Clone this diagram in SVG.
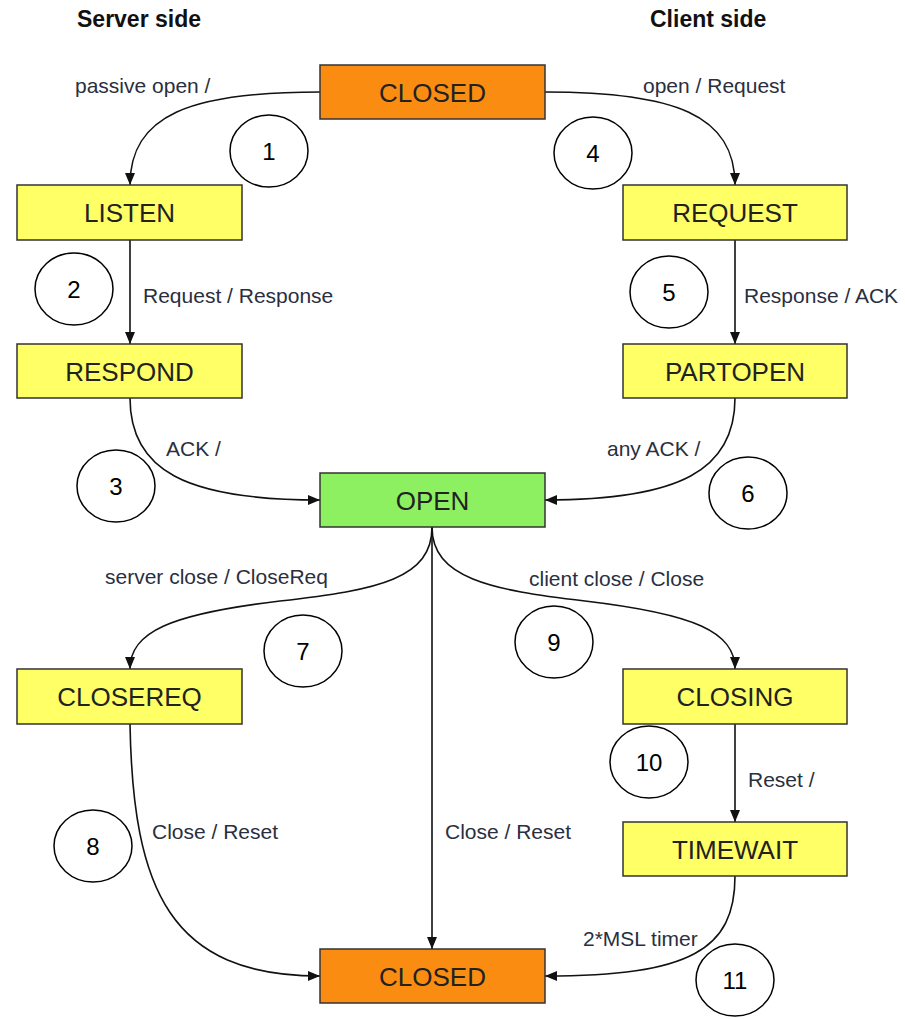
<svg xmlns="http://www.w3.org/2000/svg" width="905" height="1019" viewBox="0 0 905 1019">
<defs>
<marker id="arr" viewBox="0 0 12 10" refX="12" refY="5" markerWidth="12" markerHeight="10" markerUnits="userSpaceOnUse" orient="auto">
<path d="M0,0 L12,5 L0,10 Z" fill="#111"/>
</marker>
</defs>
<style>
.title{font-family:"Liberation Sans",Arial,sans-serif;font-weight:bold;font-size:23px;fill:#111}
.node rect{stroke:#333;stroke-width:1.5}
.closed rect{fill:#fb8c12}
.yel rect{fill:#ffff66}
.open rect{fill:#8cf060}
.node text{font-family:"Liberation Sans",Arial,sans-serif;font-size:26px;fill:#222;text-anchor:middle}
.lbl{font-family:"Liberation Sans",Arial,sans-serif;font-size:21px;fill:#2a2f40}
.edge{fill:none;stroke:#111;stroke-width:1.6;marker-end:url(#arr)}
.num ellipse{fill:#fff;stroke:#000;stroke-width:1.5}
.num text{font-family:"Liberation Sans",Arial,sans-serif;font-size:24px;fill:#000;text-anchor:middle}
</style>
<rect width="905" height="1019" fill="#fff"/>
<text class="title" x="77" y="27">Server side</text>
<text class="title" x="650" y="27">Client side</text>

<g id="connectors">
<path class="edge" d="M320,92 C190,92 130,115 130,185"/>
<path class="edge" d="M545,92 C675,92 735,115 735,185"/>
<path class="edge" d="M130,240 L130,344"/>
<path class="edge" d="M735,240 L735,344"/>
<path class="edge" d="M130,398 C130,470 185,500 320,500"/>
<path class="edge" d="M735,398 C735,470 680,500 545,500"/>
<path class="edge" d="M432,527 C432,578 380,590 280,601 C170,614 130,632 130,669"/>
<path class="edge" d="M432,527 C432,578 490,590 585,601 C695,614 735,632 735,669"/>
<path class="edge" d="M432,527 L432,949"/>
<path class="edge" d="M735,724 L735,822"/>
<path class="edge" d="M130,724 C133,890 170,976 320,976"/>
<path class="edge" d="M735,876 C735,950 690,976 545,976"/>
<text class="lbl" x="75" y="93">passive open /</text>
<text class="lbl" x="643" y="93">open / Request</text>
<text class="lbl" x="143" y="303">Request / Response</text>
<text class="lbl" x="744" y="303">Response / ACK</text>
<text class="lbl" x="166" y="456">ACK /</text>
<text class="lbl" x="607" y="456">any ACK /</text>
<text class="lbl" x="105" y="584">server close / CloseReq</text>
<text class="lbl" x="529" y="586">client close / Close</text>
<text class="lbl" x="748" y="787">Reset /</text>
<text class="lbl" x="152" y="839">Close / Reset</text>
<text class="lbl" x="445" y="839">Close / Reset</text>
<text class="lbl" x="583" y="946">2*MSL timer</text>
</g>

<g id="closed-top" class="node closed"><rect x="320" y="65" width="225" height="54"/><text x="432.5" y="101.5">CLOSED</text></g>
<g id="listen" class="node yel"><rect x="17" y="185" width="225" height="55"/><text x="129.5" y="222">LISTEN</text></g>
<g id="request" class="node yel"><rect x="623" y="185" width="224" height="55"/><text x="735" y="222">REQUEST</text></g>
<g id="respond" class="node yel"><rect x="17" y="344" width="225" height="54"/><text x="129.5" y="380.5">RESPOND</text></g>
<g id="partopen" class="node yel"><rect x="623" y="344" width="224" height="54"/><text x="735" y="380.5">PARTOPEN</text></g>
<g id="open" class="node open"><rect x="320" y="473" width="225" height="54"/><text x="432.5" y="509.5">OPEN</text></g>
<g id="closereq" class="node yel"><rect x="17" y="669" width="225" height="55"/><text x="129.5" y="706">CLOSEREQ</text></g>
<g id="closing" class="node yel"><rect x="623" y="669" width="224" height="55"/><text x="735" y="706">CLOSING</text></g>
<g id="timewait" class="node yel"><rect x="623" y="822" width="224" height="54"/><text x="735" y="858.5">TIMEWAIT</text></g>
<g id="closed-bottom" class="node closed"><rect x="320" y="949" width="225" height="54"/><text x="432.5" y="985.5">CLOSED</text></g>

<g id="n1" class="num"><ellipse cx="269" cy="151" rx="39" ry="36"/><text x="269" y="160">1</text></g>
<g id="n2" class="num"><ellipse cx="74" cy="289" rx="39" ry="36"/><text x="74" y="298">2</text></g>
<g id="n3" class="num"><ellipse cx="116" cy="486" rx="39" ry="36"/><text x="116" y="495">3</text></g>
<g id="n4" class="num"><ellipse cx="593" cy="153" rx="39" ry="36"/><text x="593" y="162">4</text></g>
<g id="n5" class="num"><ellipse cx="669" cy="292" rx="39" ry="36"/><text x="669" y="301">5</text></g>
<g id="n6" class="num"><ellipse cx="748" cy="493" rx="39" ry="36"/><text x="748" y="502">6</text></g>
<g id="n7" class="num"><ellipse cx="303" cy="651" rx="39" ry="36"/><text x="303" y="660">7</text></g>
<g id="n8" class="num"><ellipse cx="93" cy="846" rx="39" ry="36"/><text x="93" y="855">8</text></g>
<g id="n9" class="num"><ellipse cx="554" cy="642" rx="39" ry="36"/><text x="554" y="651">9</text></g>
<g id="n10" class="num"><ellipse cx="649" cy="762" rx="39" ry="36"/><text x="649" y="771">10</text></g>
<g id="n11" class="num"><ellipse cx="735" cy="980" rx="39" ry="36"/><text x="735" y="989">11</text></g>
</svg>
